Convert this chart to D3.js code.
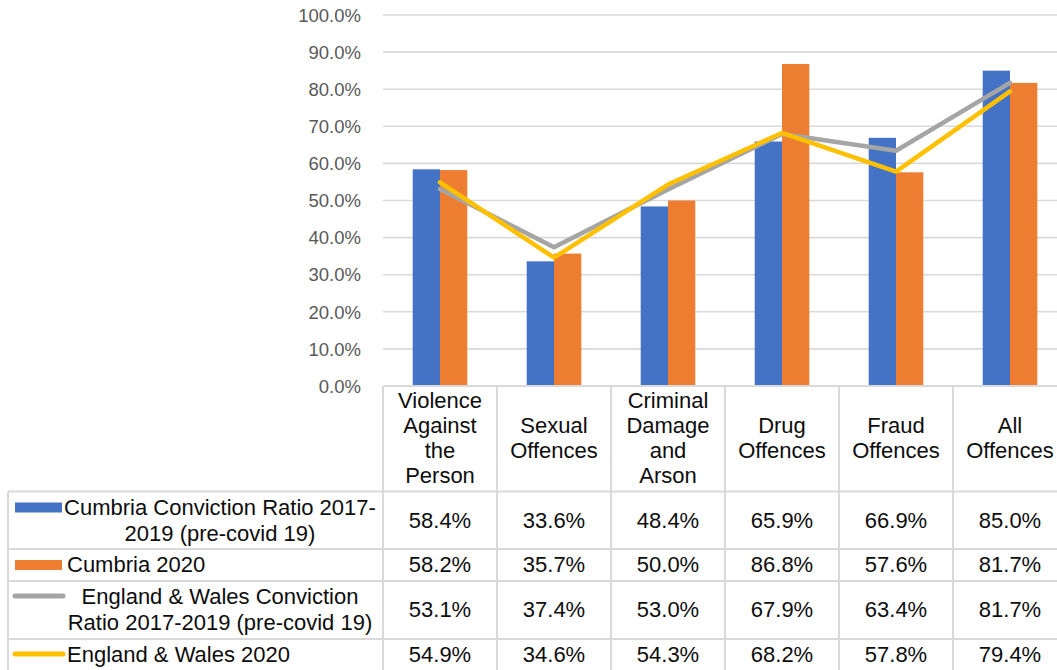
<!DOCTYPE html>
<html>
<head>
<meta charset="utf-8">
<script src="https://cdn.jsdelivr.net/npm/d3@7"></script>
<style>
  html, body { margin: 0; padding: 0; background: #fff; overflow: hidden; }
  svg { display: block; font-family: "Liberation Sans", Arial, sans-serif; }
</style>
</head>
<body>
<svg id="chart" width="1057" height="670"></svg>
<script>
// Offence categories (header row of the data table, wrapped lines)
const categories = [
  "Violence Against the Person",
  "Sexual Offences",
  "Criminal Damage and Arson",
  "Drug Offences",
  "Fraud Offences",
  "All Offences"
];
const categoryLines = [
  ["Violence", "Against", "the", "Person"],
  ["Sexual", "Offences"],
  ["Criminal", "Damage", "and", "Arson"],
  ["Drug", "Offences"],
  ["Fraud", "Offences"],
  ["All", "Offences"]
];

// Conviction ratios (fractions)
const cumbriaPre   = [0.584, 0.336, 0.484, 0.659, 0.669, 0.850];
const cumbria2020  = [0.582, 0.357, 0.500, 0.868, 0.576, 0.817];
const ewPre        = [0.531, 0.374, 0.530, 0.679, 0.634, 0.817];
const ew2020       = [0.549, 0.346, 0.543, 0.682, 0.578, 0.794];

// Series names as wrapped in the legend column
const seriesNames = [
  ["Cumbria Conviction Ratio 2017-", "2019 (pre-covid 19)"],
  ["Cumbria 2020"],
  ["England & Wales Conviction", "Ratio 2017-2019 (pre-covid 19)"],
  ["England & Wales 2020"]
];

// Y axis ticks
const yTicks = [0, 0.1, 0.2, 0.3, 0.4, 0.5, 0.6, 0.7, 0.8, 0.9, 1.0];

const series = [
  { name: seriesNames[0], values: cumbriaPre,  type: "bar",  color: "#4472C4" },
  { name: seriesNames[1], values: cumbria2020, type: "bar",  color: "#ED7D31" },
  { name: seriesNames[2], values: ewPre,       type: "line", color: "#A5A5A5" },
  { name: seriesNames[3], values: ew2020,      type: "line", color: "#FFC000" }
];

const svg = d3.select("#chart");
const gridColor = "#D9D9D9";
const textColor = "#0d0d0d";
const fontSize = 22;

// Layout of plot and table
const plotLeft = 383, plotTop = 15, plotBottom = 386;
const colW = 114;
const plotRight = plotLeft + colW * categories.length;
const legendLeft = 8;
const rowEdges = [491.5, 549, 581, 639, 672];

const x = d3.scaleBand().domain(categories).range([plotLeft, plotRight]).paddingInner(0).paddingOuter(0);
const y = d3.scaleLinear().domain([0, 1]).range([plotBottom, plotTop]);

const barSeries = series.filter(s => s.type === "bar");
const groupW = 54.6;
const xb = d3.scaleBand().domain(barSeries.map((s, i) => i)).range([0, groupW]).padding(0);

// Gridlines
svg.append("g").selectAll("line").data(yTicks.filter(t => t > 0)).join("line")
  .attr("x1", plotLeft).attr("x2", plotRight)
  .attr("y1", d => y(d)).attr("y2", d => y(d))
  .attr("stroke", gridColor).attr("stroke-width", 1.6);

// Y axis labels
const yAxis = d3.axisLeft(y).tickValues(yTicks).tickFormat(d3.format(".1%")).tickSize(0).tickPadding(0);
const yg = svg.append("g").attr("transform", `translate(${plotLeft - 22},0)`).call(yAxis);
yg.select(".domain").remove();
yg.selectAll("text")
  .attr("fill", "#595959")
  .attr("font-size", 18.5)
  .attr("font-family", "'Liberation Sans', Arial, sans-serif")
  .attr("dy", "0.34em");

// Bars
barSeries.forEach((s, si) => {
  svg.append("g").selectAll("rect").data(s.values).join("rect")
    .attr("x", (d, i) => x(categories[i]) + (colW - groupW) / 2 + xb(si))
    .attr("width", xb.bandwidth())
    .attr("y", d => y(d))
    .attr("height", d => y(0) - y(d))
    .attr("fill", s.color);
});

// Lines
const lineGen = d3.line()
  .x((d, i) => x(categories[i]) + colW / 2)
  .y(d => y(d));
series.filter(s => s.type === "line").forEach(s => {
  svg.append("path").datum(s.values)
    .attr("d", lineGen)
    .attr("fill", "none")
    .attr("stroke", s.color)
    .attr("stroke-width", 4.5)
    .attr("stroke-linejoin", "round")
    .attr("stroke-linecap", "round");
});

// Data table borders
const tb = svg.append("g").attr("stroke", gridColor).attr("stroke-width", 2).attr("fill", "none");
// top edge of header (x axis)
tb.append("line").attr("x1", plotLeft).attr("x2", plotRight).attr("y1", plotBottom).attr("y2", plotBottom);
// horizontal row lines
rowEdges.forEach(ry => {
  tb.append("line").attr("x1", legendLeft).attr("x2", plotRight).attr("y1", ry).attr("y2", ry);
});
// vertical lines between categories
d3.range(categories.length + 1).forEach(i => {
  const vx = plotLeft + i * colW;
  tb.append("line").attr("x1", vx).attr("x2", vx).attr("y1", plotBottom).attr("y2", 672);
});
// left edge of legend column
tb.append("line").attr("x1", legendLeft).attr("x2", legendLeft).attr("y1", rowEdges[0]).attr("y2", 672);

// Header labels
const headerMid = (plotBottom + rowEdges[0]) / 2;
const lineStep = 24.8;
categoryLines.forEach((lines, ci) => {
  const cx = x(categories[ci]) + colW / 2;
  const t = svg.append("text")
    .attr("text-anchor", "middle")
    .attr("font-size", fontSize)
    .attr("fill", textColor);
  lines.forEach((ln, li) => {
    t.append("tspan")
      .attr("x", cx)
      .attr("y", headerMid + (li - (lines.length - 1) / 2) * lineStep)
      .attr("dy", "0.3em")
      .text(ln);
  });
});

// Table values
const fmt = d3.format(".1%");
series.forEach((s, si) => {
  const mid = (rowEdges[si] + rowEdges[si + 1]) / 2;
  svg.append("g").selectAll("text").data(s.values).join("text")
    .attr("x", (d, i) => x(categories[i]) + colW / 2)
    .attr("y", si === 3 ? 655 : mid)
    .attr("dy", "0.34em")
    .attr("text-anchor", "middle")
    .attr("font-size", fontSize)
    .attr("fill", textColor)
    .text(d => fmt(d));
});

// Legend keys and names
const keyX0 = 14, keyX1 = 62;
series.forEach((s, si) => {
  const top = rowEdges[si];
  const bottom = si === 3 ? 670 : rowEdges[si + 1];
  const lines = s.name;
  const firstY = lines.length > 1 ? top + 16 : (si === 3 ? 655 : (top + bottom) / 2);
  if (s.type === "bar") {
    svg.append("rect")
      .attr("x", keyX0 + 1).attr("width", keyX1 - keyX0 - 1)
      .attr("y", firstY - 5).attr("height", 10)
      .attr("fill", s.color);
  } else {
    svg.append("line")
      .attr("x1", keyX0 + 1).attr("x2", keyX1 + 1)
      .attr("y1", firstY - 1).attr("y2", firstY - 1)
      .attr("stroke", s.color).attr("stroke-width", 5)
      .attr("stroke-linecap", "round");
  }
  const t = svg.append("text")
    .attr("font-size", fontSize)
    .attr("fill", textColor)
    .attr("text-anchor", lines.length > 1 ? "middle" : "start");
  lines.forEach((ln, li) => {
    t.append("tspan")
      .attr("x", lines.length > 1 ? 220 : 67)
      .attr("y", firstY + li * 25.7)
      .attr("dy", "0.34em")
      .text(ln);
  });
});
</script>
</body>
</html>
